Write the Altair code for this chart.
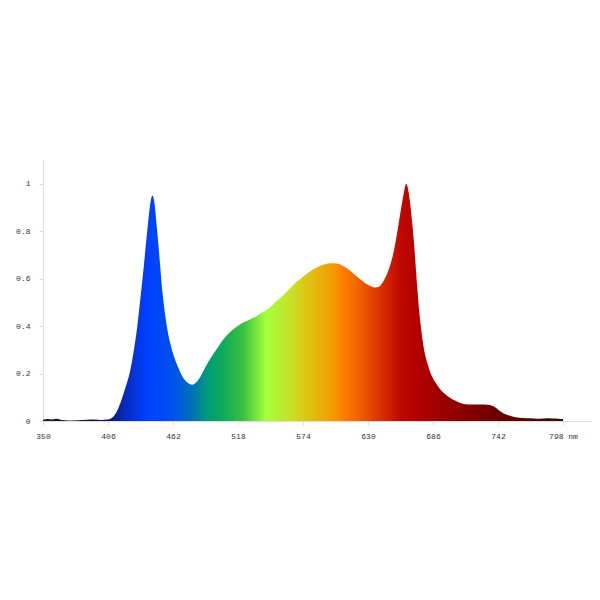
import altair as alt
import pandas as pd

# Spectrum (wavelength nm, relative intensity)
wavelength = [350, 354, 358, 362, 366, 372, 380, 388, 394, 400, 405, 409, 413, 417, 421, 425, 428, 431, 434, 437,
              440, 442, 444.3, 446, 448, 450, 453, 457, 460, 463, 467, 471, 475, 478.5, 482, 486, 490, 494.5, 499,
              503, 507, 512, 516, 520, 525, 529, 534, 538, 542, 546, 550, 555, 560, 564, 568, 572, 577, 583, 590,
              597, 603, 607, 611, 615, 619, 623, 627, 632, 636, 639, 642, 646, 649, 652, 655, 658, 660.5, 663, 665,
              666.5, 668, 669.5, 671, 672.5, 674, 675.5, 678, 682, 685, 688, 692, 696, 701, 705, 709, 714, 720,
              727, 733, 737, 741, 744, 747, 751, 755, 760, 767, 773, 778, 784, 789, 794, 798]
intensity = [0.005, 0.008, 0.006, 0.009, 0.004, 0.002, 0.003, 0.005, 0.006, 0.004, 0.006, 0.012, 0.035, 0.08, 0.14,
             0.21, 0.29, 0.39, 0.52, 0.66, 0.81, 0.90, 0.95, 0.92, 0.82, 0.71, 0.54, 0.39, 0.32, 0.27, 0.22, 0.18,
             0.16, 0.153, 0.163, 0.19, 0.228, 0.265, 0.298, 0.328, 0.353, 0.378, 0.394, 0.408, 0.42, 0.43, 0.442, 0.455,
             0.467, 0.48, 0.50, 0.52, 0.545, 0.565, 0.585, 0.60, 0.62, 0.64, 0.656, 0.665, 0.664, 0.658, 0.647, 0.632,
             0.615, 0.598, 0.583, 0.569, 0.563, 0.565, 0.58, 0.615, 0.655, 0.71, 0.79, 0.88, 0.95, 1.0, 0.965, 0.91,
             0.84, 0.76, 0.66, 0.56, 0.47, 0.40, 0.31, 0.23, 0.19, 0.163, 0.135, 0.115, 0.097, 0.086, 0.077,
             0.071, 0.07, 0.07, 0.068, 0.064, 0.053, 0.041, 0.032, 0.024, 0.018, 0.014, 0.012, 0.011, 0.01, 0.012,
             0.011, 0.01, 0.008]

x_ticks = [350, 406, 462, 518, 574, 630, 686, 742, 798]
y_ticks = [0, 0.2, 0.4, 0.6, 0.8, 1]

# Colour of the fill at given wavelengths
stop_nm = [350, 400, 412, 425, 440, 462, 478, 492, 505, 522, 542, 563, 580, 598, 608, 623, 641, 658, 675, 697,
           720, 742, 770, 798]
stop_col = ["#1a1a33", "#12124a", "#0a2090", "#0630d0", "#0040ff", "#0050ec", "#0070b8", "#009c78", "#10aa58",
            "#38c040", "#a4ff3c", "#c8e028", "#e0c010", "#f0a000", "#ff8000", "#f06000", "#d83000", "#c00800",
            "#b00000", "#9a0000", "#800000", "#6a0000", "#4a0808", "#3a0a0a"]

lo, hi = wavelength[0], wavelength[-1]
gradient = alt.Gradient(
    gradient="linear", x1=0, x2=1, y1=0, y2=0,
    stops=[alt.GradientStop(color=c, offset=(n - lo) / (hi - lo)) for n, c in zip(stop_nm, stop_col)],
)

df = pd.DataFrame({"nm": wavelength, "value": intensity})

font = "Liberation Mono"
chart = alt.Chart(df).mark_area(interpolate="monotone", fill=gradient).encode(
    x=alt.X("nm:Q", scale=alt.Scale(domain=[350, 823], nice=False, zero=False),
            axis=alt.Axis(values=x_ticks, format="d", title=None, grid=False, labelFlush=False,
                          labelExpr="datum.value == 798 ? '798 nm' : datum.label",
                          domainColor="#dddddd", tickColor="#dddddd", tickSize=4, labelPadding=7,
                          labelFont=font, labelFontSize=8, labelColor="#333333")),
    y=alt.Y("value:Q", scale=alt.Scale(domain=[0, 1.1], nice=False),
            axis=alt.Axis(values=y_ticks, format="~g", title=None, grid=False,
                          domainColor="#dddddd", tickColor="#dddddd", tickSize=4, labelPadding=9,
                          labelFont=font, labelFontSize=8, labelColor="#333333")),
).properties(
    width=549, height=261,
    autosize=alt.AutoSizeParams(type="none"),
    padding={"left": 35, "top": 152, "right": 0, "bottom": 40},
).configure_view(stroke=None)

chart.save("out.html", embed_options={"renderer": "svg", "actions": False})
